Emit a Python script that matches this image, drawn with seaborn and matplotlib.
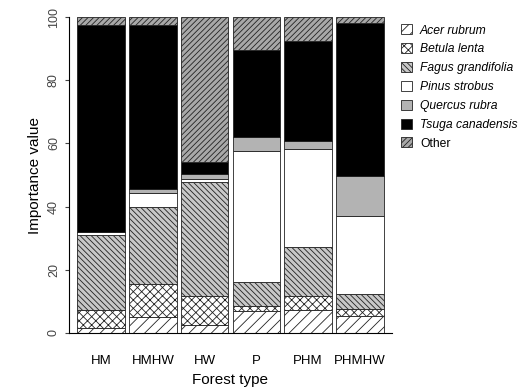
import numpy as np
import pandas as pd
import matplotlib
matplotlib.use("Agg")
import matplotlib.pyplot as plt
from matplotlib.patches import Patch
import seaborn as sns

# Data (importance values)
forest_types = ['HM', 'HMHW', 'HW', 'P', 'PHM', 'PHMHW']
species = ['Acer rubrum', 'Betula lenta', 'Fagus grandifolia', 'Pinus strobus',
           'Quercus rubra', 'Tsuga canadensis', 'Other']
acer = [1.7, 5.1, 2.5, 7.0, 7.3, 5.4]
betula = [5.6, 10.4, 9.2, 1.7, 4.4, 2.1]
fagus = [23.7, 24.3, 36.0, 7.4, 15.5, 4.8]
pinus = [1.0, 4.5, 0.9, 41.6, 30.9, 24.6]
quercus = [0.0, 1.2, 1.8, 4.4, 2.6, 12.7]
tsuga = [65.5, 52.0, 3.6, 27.4, 31.7, 48.5]
other = [2.5, 2.5, 46.0, 10.5, 7.6, 1.9]

values = [acer, betula, fagus, pinus, quercus, tsuga, other]
faces = ['white', 'white', '#c8c8c8', 'white', '#b3b3b3', 'black', '#a8a8a8']
hatches = ['///', 'xxxx', '\\\\\\\\\\\\', '', '', '', '//////']

plt.rcParams['font.family'] = ['Liberation Sans', 'DejaVu Sans']
plt.rcParams['hatch.linewidth'] = 0.6

fig, ax = plt.subplots(figsize=(5.19, 3.89), dpi=100)
fig.subplots_adjust(left=0.133, right=0.755, bottom=0.144, top=0.956)

bottom = np.zeros(len(forest_types))
for name, vals, fc, h in zip(species, values, faces, hatches):
    df = pd.DataFrame({'type': forest_types, 'val': vals})
    n_before = len(ax.patches)
    sns.barplot(data=df, x='type', y='val', ax=ax, color=fc, bottom=bottom,
                width=0.92, edgecolor='#222222', linewidth=0.6, saturation=1)
    for p in ax.patches[n_before:]:
        p.set_facecolor(fc)
        p.set_hatch(h)
    bottom = bottom + np.array(vals)

ax.set_ylim(0, 100)
ax.set_xlim(-0.62, 5.62)
ax.set_yticks([0, 20, 40, 60, 80, 100])
ax.set_yticklabels(['0', '20', '40', '60', '80', '100'], rotation=90, va='center')
ax.tick_params(axis='y', labelsize=9, colors='#444444', length=3)
ax.tick_params(axis='x', labelsize=9.5, length=0, pad=16)
ax.set_ylabel('Importance value', fontsize=11)
ax.set_xlabel('Forest type', fontsize=11, labelpad=4)
sns.despine(ax=ax)

handles = [Patch(facecolor=fc, edgecolor='#222222', hatch=h, linewidth=0.6)
           for fc, h in zip(faces, hatches)]
leg = ax.legend(handles, species, loc='upper left', bbox_to_anchor=(1.005, 1.0),
                frameon=False, handlelength=0.9, handleheight=0.9,
                fontsize=8.7, labelspacing=0.55, handletextpad=0.7,
                borderaxespad=0.2)
for t in leg.get_texts()[:-1]:
    t.set_style('italic')

fig.savefig('out.png', dpi=100)
